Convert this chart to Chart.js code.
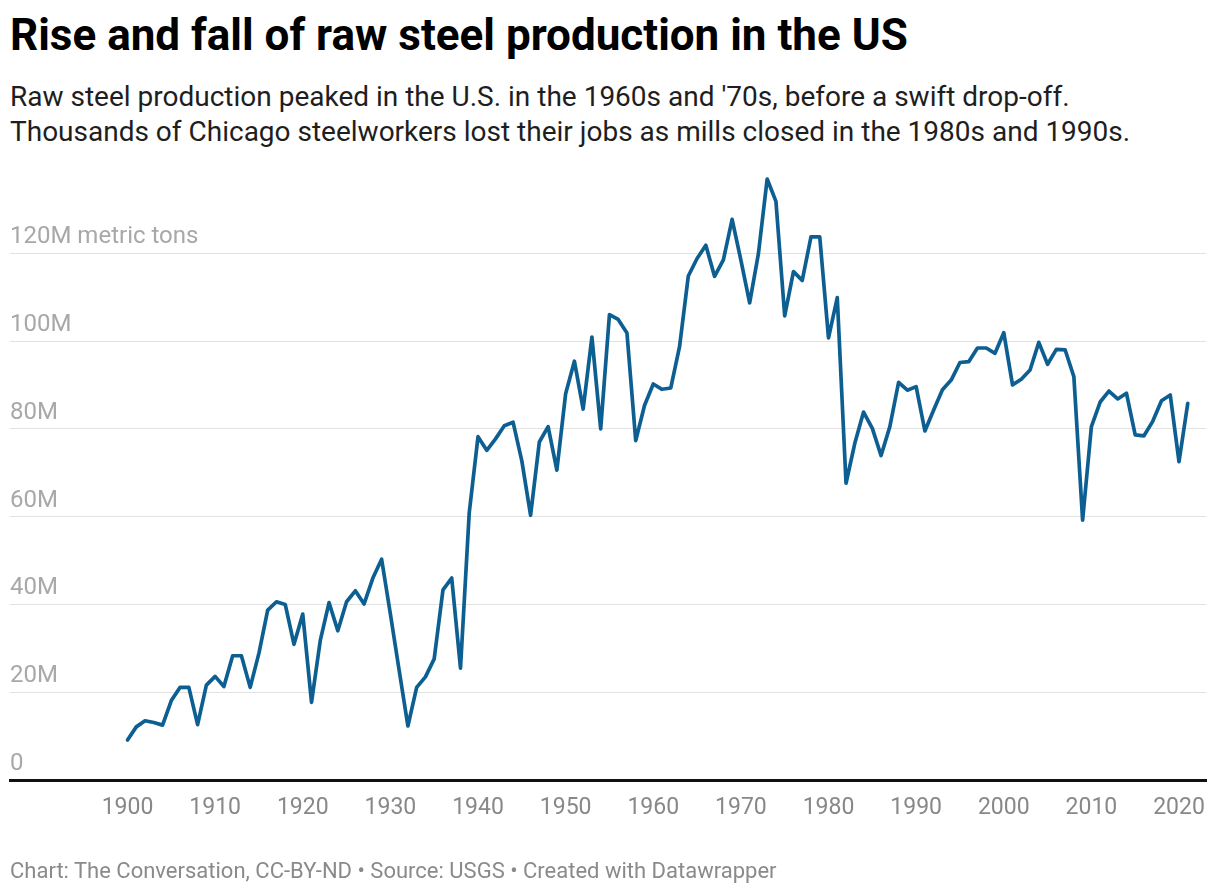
<!DOCTYPE html>
<html>
<head>
<meta charset="utf-8">
<script src="https://cdn.jsdelivr.net/npm/chart.js@4.4.1/dist/chart.umd.min.js"></script>
<style>
  html,body{margin:0;padding:0;background:#fff;}
  body{width:1220px;height:896px;position:relative;overflow:hidden;font-family:Roboto,"Noto Sans",sans-serif;}
  .titulo{position:absolute;left:10px;top:13px;font-size:44px;line-height:44px;font-weight:700;color:#000;white-space:nowrap;}
  .sub{position:absolute;left:10px;top:79px;font-size:28px;line-height:35px;color:#1e1e1e;white-space:nowrap;}
  .pie{position:absolute;left:10px;top:860px;font-size:22px;line-height:22px;color:#8a8a8a;white-space:nowrap;}
  .wrap{position:absolute;left:0;top:151px;width:1220px;height:709px;}
</style>
</head>
<body>
<div class="titulo">Rise and fall of raw steel production in the US</div>
<div class="sub">Raw steel production peaked in the U.S. in the 1960s and '70s, before a swift drop-off.<br>Thousands of Chicago steelworkers lost their jobs as mills closed in the 1980s and 1990s.</div>
<div class="wrap"><canvas id="chart"></canvas></div>
<div class="pie">Chart: The Conversation, CC-BY-ND • Source: USGS • Created with Datawrapper</div>

<script>
// Años (1900-2021) y producción en millones de toneladas métricas
const YEARS = [];
for(let y=1900; y<=2021; y++) YEARS.push(y);

const PRODUCTION = [
  9.1, 12.1, 13.5, 13.1, 12.5, 18.1, 21.1, 21.1, 12.6, 21.6,   // 1900s
  23.6, 21.3, 28.3, 28.3, 21.1, 28.9, 38.7, 40.6, 40.0, 30.9,  // 1910s
  37.8, 17.7, 31.8, 40.4, 34.0, 40.6, 43.1, 40.1, 46.0, 50.3,  // 1920s
  37.8, 25.0, 12.3, 21.1, 23.5, 27.6, 43.3, 46.0, 25.5, 60.9,  // 1930s
  78.2, 75.1, 77.7, 80.7, 81.5, 72.7, 60.3, 77.0, 80.5, 70.6,  // 1940s
  88.0, 95.4, 84.5, 100.9, 80.0, 106.0, 104.9, 101.8, 77.3, 85.3, // 1950s
  90.2, 89.0, 89.3, 98.7, 114.8, 118.8, 121.8, 114.7, 118.5, 127.7, // 1960s
  118.4, 108.7, 119.9, 136.9, 131.8, 105.7, 115.8, 113.8, 123.7, 123.7, // 1970s
  100.7, 109.9, 67.6, 76.7, 83.8, 80.1, 73.9, 80.5, 90.6, 88.8, // 1980s
  89.6, 79.5, 84.3, 88.9, 91.1, 95.1, 95.3, 98.4, 98.4, 97.2,  // 1990s
  101.9, 90.0, 91.3, 93.4, 99.7, 94.7, 98.1, 98.0, 91.9, 59.2, // 2000s
  80.5, 86.1, 88.6, 86.8, 88.1, 78.6, 78.4, 81.7, 86.4, 87.7,  // 2010s
  72.5, 85.8                                                    // 2020-2021
];

const X_TICKS = [1900,1910,1920,1930,1940,1950,1960,1970,1980,1990,2000,2010,2020];
const Y_TICKS = [0,20,40,60,80,100,120];

const LINE_COLOR = '#0d5f92';

const puntos = YEARS.map((y,i)=>({x:y, y:PRODUCTION[i]}));

new Chart(document.getElementById('chart'), {
  type: 'line',
  data: {
    datasets: [{
      data: puntos,
      borderColor: LINE_COLOR,
      borderWidth: 3.7,
      pointRadius: 0,
      pointHoverRadius: 0,
      tension: 0,
      borderJoinStyle: 'round',
      borderCapStyle: 'round',
      fill: false
    }]
  },
  options: {
    responsive: true,
    maintainAspectRatio: false,
    animation: false,
    events: [],
    layout: { padding: { left: 10, right: 14, top: 0, bottom: 0 } },
    plugins: { legend: { display: false }, tooltip: { enabled: false } },
    scales: {
      x: {
        type: 'linear',
        min: 1886.59,
        max: 2023.08,
        afterBuildTicks: s => { s.ticks = X_TICKS.map(v=>({value:v})); },
        afterFit: s => { s.height = 80; },
        grid: { display: false, drawTicks: false },
        border: { display: true, color: '#111', width: 3 },
        ticks: {
          autoSkip: false,
          maxRotation: 0,
          padding: 14,
          color: '#888',
          font: { family: 'Roboto', size: 23 },
          callback: v => String(v)
        }
      },
      y: {
        min: 0,
        max: 140,
        afterBuildTicks: s => { s.ticks = Y_TICKS.map(v=>({value:v})); },
        afterFit: s => { s.width = 0; },
        grid: { color: '#e2e2e2', lineWidth: 1, drawTicks: false },
        border: { display: false },
        ticks: {
          mirror: true,
          padding: 0,
          labelOffset: -16,
          color: '#a8a8a8',
          font: { family: 'Roboto', size: 24 },
          callback: v => v===0 ? '0' : (v===120 ? '120M metric tons' : v+'M')
        }
      }
    }
  }
});
</script>
</body>
</html>
